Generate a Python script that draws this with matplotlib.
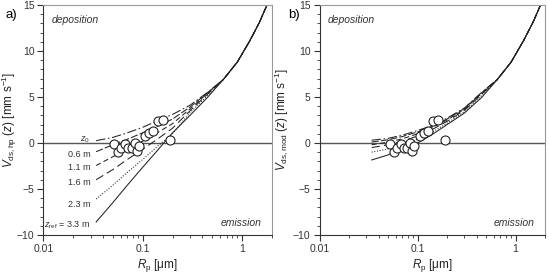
import matplotlib
matplotlib.use("Agg")
import matplotlib.pyplot as plt
from matplotlib.ticker import FixedLocator, NullFormatter
import numpy as np

plt.rcParams['font.family'] = ['Liberation Sans', 'DejaVu Sans']
plt.rcParams['mathtext.fontset'] = 'custom'
plt.rcParams['mathtext.rm'] = 'Liberation Sans'
plt.rcParams['mathtext.it'] = 'Liberation Sans:italic'

# --- donnees mesurees (cercles), communes aux deux panneaux ---
obs_rp = [0.052, 0.057, 0.061, 0.067, 0.072, 0.078, 0.084, 0.087, 0.093,
          0.106, 0.116, 0.127, 0.142, 0.162, 0.189]
obs_v = [-0.1, -0.95, -0.6, -0.1, -0.5, -0.6, 0.0, -0.9, -0.35,
         0.73, 1.1, 1.35, 2.4, 2.5, 0.37]

# --- courbes modeles : abscisses communes ---
rp_curve = [0.034, 0.05, 0.07, 0.1, 0.14, 0.2, 0.3, 0.45, 0.65,
            0.9, 1.2, 1.5, 1.8, 2.0]
tail = [8.8, 11.1, 13.1, 15.05, 16.2]

# panneau a) : V_ds,hp pour chaque hauteur
hp_z0 = [0.25, 0.6, 1.1, 1.7, 2.4, 3.1, 4.1, 5.5, 6.9] + tail
hp_06 = [-0.95, -0.2, 0.4, 1.1, 1.8, 2.6, 3.9, 5.45, 6.9] + tail
hp_11 = [-2.45, -1.5, -0.7, 0.2, 1.1, 2.1, 3.7, 5.4, 6.9] + tail
hp_16 = [-4.0, -2.9, -1.8, -0.7, 0.4, 1.6, 3.5, 5.3, 6.9] + tail
hp_23 = [-6.1, -4.6, -3.2, -1.8, -0.4, 1.0, 3.3, 5.15, 6.9] + tail
hp_33 = [-8.6, -6.5, -4.6, -2.65, -0.85, 1.1, 3.0, 4.95, 6.9] + tail

# panneau b) : V_ds,mod
mod_z0 = [0.3, 0.5, 0.85, 1.35, 1.9, 2.7, 3.8, 5.5, 6.9] + tail
mod_06 = [0.1, 0.35, 0.7, 1.2, 1.8, 2.6, 3.75, 5.45, 6.9] + tail
mod_11 = [-0.2, 0.1, 0.45, 1.0, 1.65, 2.5, 3.65, 5.4, 6.9] + tail
mod_16 = [-0.5, -0.2, 0.2, 0.75, 1.45, 2.35, 3.55, 5.3, 6.9] + tail
mod_23 = [-1.0, -0.65, -0.2, 0.4, 1.15, 2.15, 3.4, 5.15, 6.9] + tail
mod_33 = [-1.85, -1.3, -0.6, 0.0, 0.9, 2.0, 3.25, 4.95, 6.9] + tail

# etiquettes des hauteurs (panneau a)
height_labels = [r'$z_0$', '0.6 m', '1.1 m', '1.6 m', '2.3 m', r'$z_{\mathrm{ref}}$ = 3.3 m']
label_y = [0.36, -1.27, -2.7, -4.3, -6.7, -9.0]

STYLES = [
    dict(dashes=(9, 2.5, 1.5, 2.5)),
    dict(dashes=(7, 2)),
    dict(dashes=(5, 3)),
    dict(dashes=(8, 4)),
    dict(linestyle=(0, (1, 1.6))),
    dict(linestyle='-'),
]
INK = '#222222'


def setup_axes(ax, ylabel, label_x):
    ax.set_xscale('log')
    ax.set_xlim(0.01, 2.0)
    ax.set_ylim(-10, 15)
    ax.axhline(0, color='#555555', lw=1.0, zorder=1)
    ax.set_xticks([0.01, 0.1, 1])
    ax.set_xticklabels(['0.01', '0.1', '1'])
    minors = [m * d for d in (0.01, 0.1, 1) for m in range(2, 10) if m * d <= 2.0]
    ax.xaxis.set_minor_locator(FixedLocator(minors))
    ax.xaxis.set_minor_formatter(NullFormatter())
    ax.set_yticks([-10, -5, 0, 5, 10, 15])
    ax.yaxis.set_minor_locator(FixedLocator(np.arange(-10, 16, 1)))
    ax.tick_params(which='major', length=4, width=0.8, labelsize=7.5,
                   colors='#333333', direction='out', pad=2.5)
    ax.tick_params(which='minor', length=2.2, width=0.6, colors='#333333',
                   direction='out')
    for side in ('top', 'right'):
        ax.spines[side].set_color('#999999')
        ax.spines[side].set_linewidth(0.8)
    for side in ('left', 'bottom'):
        ax.spines[side].set_color('#333333')
        ax.spines[side].set_linewidth(0.8)
    ax.set_xlabel(r'$R_{\mathrm{p}}$ [$\mathrm{\mu}$m]', fontsize=8.5, labelpad=2,
                  color='#222222')
    ax.set_ylabel(ylabel, fontsize=8.5, color='#222222')
    ax.yaxis.set_label_coords(label_x, 0.5)
    ax.text(0.035, 0.935, 'deposition', transform=ax.transAxes, style='italic',
            fontsize=7.5, va='center', ha='left', color='#333333')
    ax.text(0.955, 0.052, 'emission', transform=ax.transAxes, style='italic',
            fontsize=7.5, va='center', ha='right', color='#333333')


fig = plt.figure(figsize=(5.49, 2.8), dpi=100)
ax_a = fig.add_axes([0.079, 0.161, 0.416, 0.821])
ax_b = fig.add_axes([0.582, 0.161, 0.411, 0.821])

setup_axes(ax_a, r'$V_{\mathrm{ds,hp}}$ $(z)$ [mm s$^{-1}$]', -0.107)
setup_axes(ax_b, r'$V_{\mathrm{ds,mod}}$ $(z)$ [mm s$^{-1}$]', -0.132)

for ys, st in zip([hp_z0, hp_06, hp_11, hp_16, hp_23, hp_33], STYLES):
    ax_a.plot(rp_curve, ys, color=INK, lw=0.75, **st)
for ys, st in zip([mod_z0, mod_06, mod_11, mod_16, mod_23, mod_33], STYLES):
    ax_b.plot(rp_curve, ys, color=INK, lw=0.75, **st)

for ax in (ax_a, ax_b):
    ax.plot(obs_rp, obs_v, 'o', mfc='white', mec=INK, mew=0.8, ms=6.5, zorder=4)

for lab, yy in zip(height_labels, label_y):
    ax_a.text(0.0296, yy, lab, fontsize=6.5, ha='right', va='center',
              color='#333333')

fig.text(11 / 549, 1 - 15 / 280, 'a)', fontsize=9.5, ha='center', va='center')
fig.text(294 / 549, 1 - 15 / 280, 'b)', fontsize=9.5, ha='center', va='center')

fig.savefig('out.png', dpi=100)
